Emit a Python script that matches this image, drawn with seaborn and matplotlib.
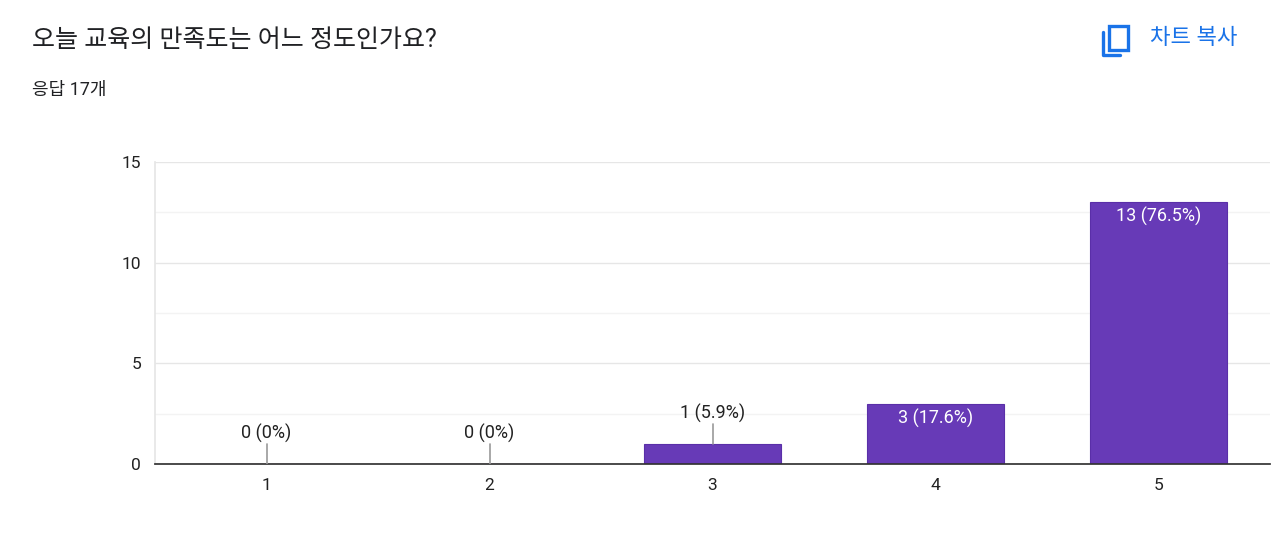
import matplotlib
matplotlib.use("Agg")
import matplotlib.pyplot as plt
import seaborn as sns
import pandas as pd
from matplotlib.patches import Rectangle
from matplotlib.lines import Line2D

categories = ["1", "2", "3", "4", "5"]
counts = [0, 0, 1, 3, 13]
labels = ["0 (0%)", "0 (0%)", "1 (5.9%)", "3 (17.6%)", "13 (76.5%)"]
title = "오늘 교육의 만족도는 어느 정도인가요?"
subtitle = "응답 17개"

sns.set_theme(style="white")
plt.rcParams['font.family'] = ['Roboto', 'Noto Sans CJK KR', 'DejaVu Sans']

fig = plt.figure(figsize=(12.8, 5.6), dpi=100)
ax = fig.add_axes([155/1280, 96/560, 1115/1280, 302/560])
df = pd.DataFrame({"cat": categories, "n": counts})
sns.barplot(data=df, x="cat", y="n", color="#673AB7", saturation=1, width=0.615,
            edgecolor="#5a2fa8", linewidth=0.8, ax=ax)
ax.set_xlim(-0.5, 4.5)
ax.set_ylim(0, 15)
ax.set_yticks([0, 5, 10, 15])
ax.set_yticks([2.5, 7.5, 12.5], minor=True)
ax.grid(axis="y", which="major", color="#e6e6e6", lw=1)
ax.grid(axis="y", which="minor", color="#f3f3f3", lw=1)
ax.set_axisbelow(True)
for s in ["top", "right"]:
    ax.spines[s].set_visible(False)
ax.spines["left"].set_color("#e6e6e6")
ax.spines["bottom"].set_color("#333333")
ax.set_xlabel(""); ax.set_ylabel("")
ax.tick_params(axis="both", length=0, labelsize=12.5, colors="#222222", pad=10)

for i, (c, lab) in enumerate(zip(counts, labels)):
    if c >= 3:
        ax.text(i, c - 0.25, lab, ha="center", va="top", color="white", fontsize=13)
    else:
        ax.plot([i, i], [c, c + 1.0], color="#999999", lw=1.2, zorder=3)
        ax.text(i, c + 1.05, lab, ha="center", va="bottom", color="#222222", fontsize=13)

fig.text(32/1280, 1 - 40/560, title, fontsize=18, color="#202124", va="center")
fig.text(32/1280, 1 - 90/560, subtitle, fontsize=13, color="#202124", va="center")
blue = "#1a73e8"
fig.text(1150/1280, 1 - 38/560, "차트 복사", fontsize=16, color=blue, va="center", weight="medium")
# copy icon
fig.patches.append(Rectangle((1109/1280, 1 - 50/560), 19/1280, 24/560, transform=fig.transFigure,
                             fill=False, ec=blue, lw=2.4))
fig.lines.append(Line2D([1103/1280, 1103/1280, 1120/1280], [1 - 32/560, 1 - 55/560, 1 - 55/560],
                        transform=fig.transFigure, color=blue, lw=2.4))
fig.savefig("out.png", dpi=100, facecolor="white")
